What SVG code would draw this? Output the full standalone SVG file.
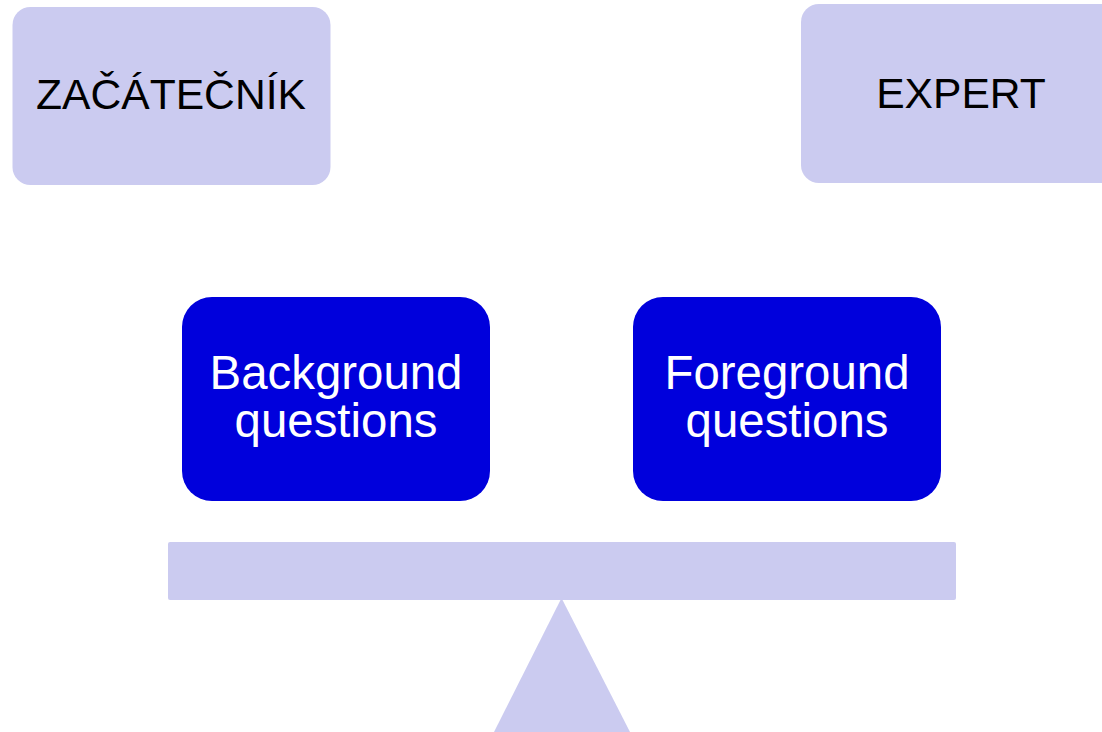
<svg xmlns="http://www.w3.org/2000/svg" width="1102" height="732" viewBox="0 0 1102 732">
<style>
.light{fill:#cbcbf0;}
.blue{fill:#0000dc;}
.lbl{font-family:"Liberation Sans",Arial,sans-serif;font-size:42.6px;fill:#000;text-anchor:middle;}
.wl{font-family:"Liberation Sans",Arial,sans-serif;font-size:47.4px;fill:#fff;text-anchor:middle;}
</style>
<rect width="1102" height="732" fill="#fff"/>
<g id="zacatecnik">
<rect class="light" x="12.5" y="7" width="318" height="178" rx="18"/>
<text class="lbl" x="171" y="109">ZAČÁTEČNÍK</text>
</g>
<g id="expert">
<rect class="light" x="801" y="4" width="320" height="179" rx="18"/>
<text class="lbl" x="961" y="107.5">EXPERT</text>
</g>
<g id="background">
<rect class="blue" x="182" y="297" width="308" height="204" rx="30"/>
<text class="wl" x="336" y="389">Background</text>
<text class="wl" x="336" y="437">questions</text>
</g>
<g id="foreground">
<rect class="blue" x="633" y="297" width="308" height="204" rx="30"/>
<text class="wl" x="787" y="389">Foreground</text>
<text class="wl" x="787" y="437">questions</text>
</g>
<g id="scale">
<rect class="light" x="168" y="542" width="788" height="58" rx="2"/>
<polygon class="light" points="561.5,598 630,732 494,732"/>
</g>
<g id="connectors"></g>
</svg>
